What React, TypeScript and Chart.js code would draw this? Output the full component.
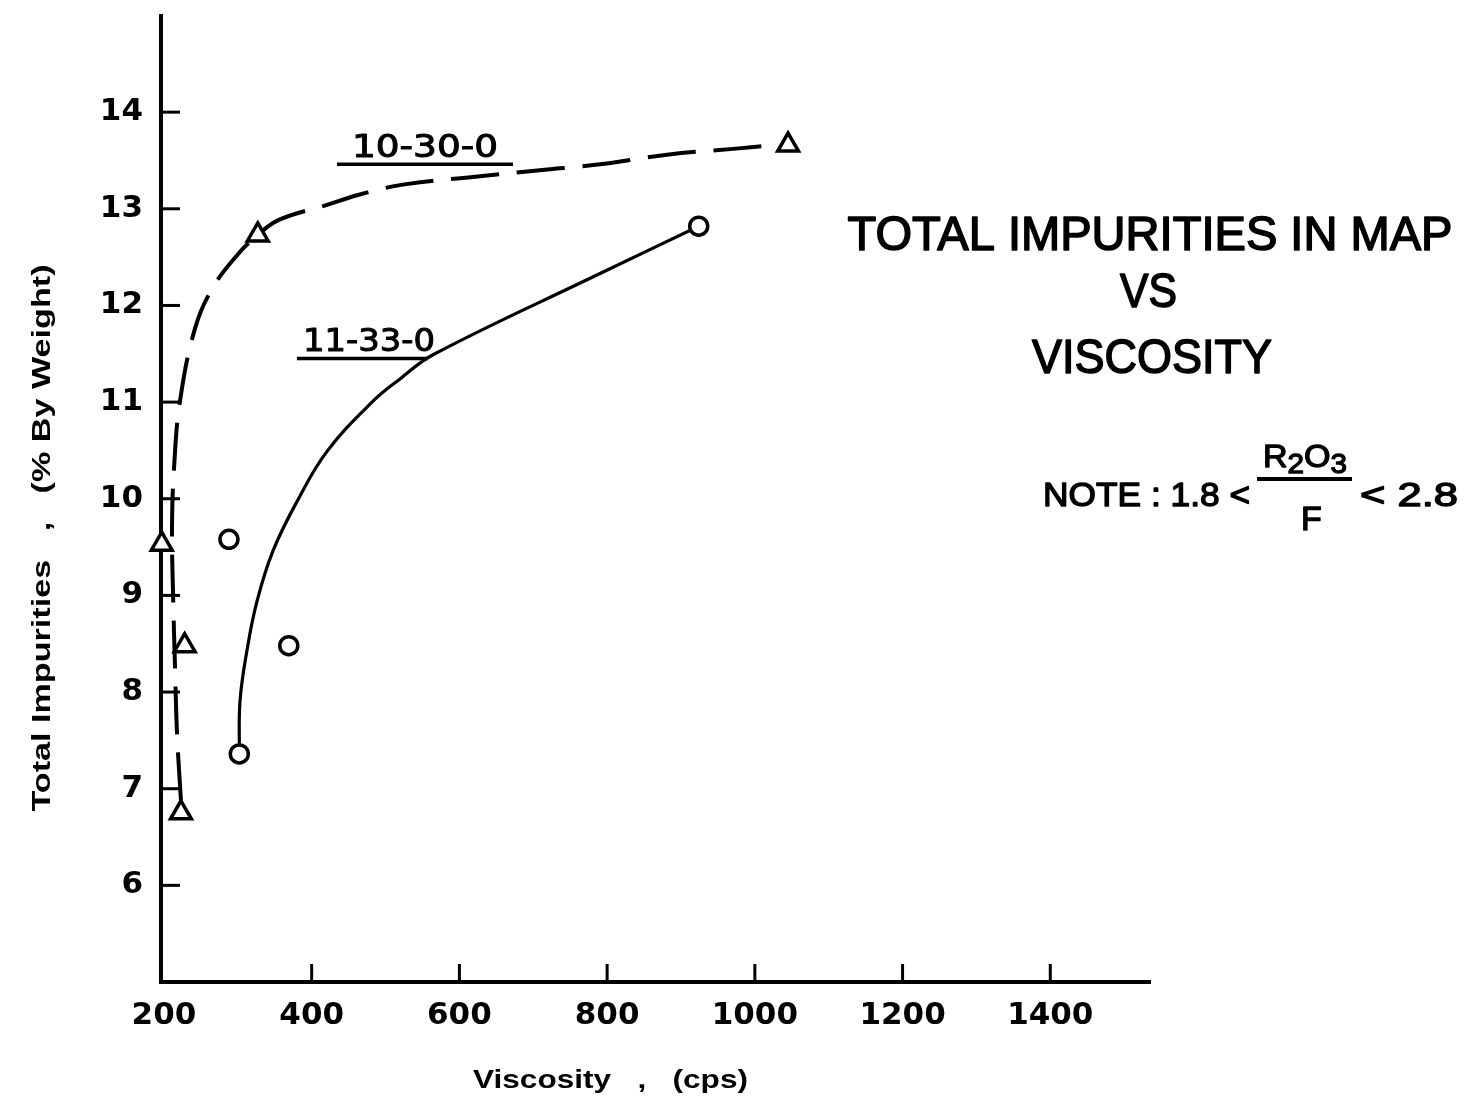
import React, { useEffect, useRef } from 'react';
import { Chart, registerables } from 'chart.js';

Chart.register(...registerables);

// ---- data ----
// measured points, formulation 10-30-0 (triangles)
const viscosity1030 = [223, 228, 197, 327, 1045];
const impurity1030 = [6.75, 8.48, 9.53, 12.73, 13.66];
// measured points, formulation 11-33-0 (circles)
const viscosity1133 = [302, 369, 288, 924];
const impurity1133 = [7.36, 8.48, 9.58, 12.82];
// hand-drawn fitted curve for 10-30-0 (dashed)
const curve1030X = [223, 217.7, 215, 212.2, 210.9, 213.6, 221.7, 242, 265, 299, 327, 357, 420.8, 461.4, 523.6, 618.4, 709, 790.4, 881, 970.4, 1027];
const curve1030Y = [6.88, 7.57, 8.25, 9.05, 9.7, 10.31, 11.01, 11.76, 12.17, 12.52, 12.73, 12.89, 13.04, 13.14, 13.25, 13.33, 13.4, 13.46, 13.56, 13.62, 13.66];
// hand-drawn fitted curve for 11-33-0 (solid)
const curve1133X = [302, 303, 312.4, 326, 347.6, 380, 420.8, 483, 519.6, 564.3, 790.4, 924];
const curve1133Y = [7.36, 7.91, 8.43, 8.94, 9.46, 9.97, 10.49, 11.01, 11.24, 11.49, 12.33, 12.82];
// axes
const xTickValues = [200, 400, 600, 800, 1000, 1200, 1400];
const yTickValues = [6, 7, 8, 9, 10, 11, 12, 13, 14];
const xMin = 196;
const xMax = 1535;
const yMin = 5;
const yMax = 15;
// texts
const curveNames = ['10-30-0', '11-33-0'];
const titleLines = ['TOTAL IMPURITIES IN MAP', 'VS', 'VISCOSITY'];
const xTitle = 'Viscosity   ,   (cps)';
const yTitle = 'Total Impurities   ,   (% By Weight)';

const pts = (xs: number[], ys: number[]) => xs.map((x, i) => ({ x, y: ys[i] }));

function fitText(
  ctx: CanvasRenderingContext2D,
  text: string,
  cx: number,
  baseY: number,
  width: number | null,
  font: string,
  rot = 0,
  stroke = 0
) {
  ctx.save();
  ctx.font = font;
  ctx.textAlign = 'center';
  ctx.textBaseline = 'alphabetic';
  ctx.translate(cx, baseY);
  if (rot) ctx.rotate(rot);
  if (width) {
    const w = ctx.measureText(text).width;
    ctx.scale(width / w, 1);
  }
  ctx.fillText(text, 0, 0);
  if (stroke) {
    ctx.lineWidth = stroke;
    ctx.lineJoin = 'round';
    ctx.strokeText(text, 0, 0);
  }
  ctx.restore();
}

const decor = {
  id: 'decor',
  afterDraw(chart: any) {
    const ctx: CanvasRenderingContext2D = chart.ctx;
    const xs = chart.scales.x;
    const ys = chart.scales.y;
    const ca = chart.chartArea;
    ctx.save();
    ctx.strokeStyle = '#000';
    ctx.fillStyle = '#000';
    ctx.lineCap = 'butt';

    // inward tick marks
    ctx.lineWidth = 3;
    yTickValues.forEach((v) => {
      const y = ys.getPixelForValue(v);
      ctx.beginPath();
      ctx.moveTo(ca.left, y);
      ctx.lineTo(ca.left + 19, y);
      ctx.stroke();
    });
    xTickValues.forEach((v) => {
      if (v <= 200) return;
      const x = xs.getPixelForValue(v);
      ctx.beginPath();
      ctx.moveTo(x, ca.bottom);
      ctx.lineTo(x, ca.bottom - 18);
      ctx.stroke();
    });

    // curve labels with underline
    const labelFont = '32px "DejaVu Sans"';
    const l1x = xs.getPixelForValue(553.4);
    const l1y = ys.getPixelForValue(13.66);
    fitText(ctx, curveNames[0], l1x, l1y + 12, 146, labelFont, 0, 1);
    ctx.lineWidth = 3.5;
    ctx.beginPath();
    ctx.moveTo(xs.getPixelForValue(434.3), ys.getPixelForValue(13.46));
    ctx.lineTo(xs.getPixelForValue(672.6), ys.getPixelForValue(13.46));
    ctx.stroke();

    const l2x = xs.getPixelForValue(477.6);
    const l2y = ys.getPixelForValue(11.65);
    fitText(ctx, curveNames[1], l2x, l2y + 12, 132, labelFont, 0, 1);
    ctx.lineWidth = 3.5;
    ctx.beginPath();
    ctx.moveTo(xs.getPixelForValue(380), ys.getPixelForValue(11.45));
    ctx.lineTo(xs.getPixelForValue(557.5), ys.getPixelForValue(11.45));
    ctx.stroke();

    // title block
    const tFont = '49px "Liberation Sans"';
    fitText(ctx, titleLines[0], 1150, 250, 605, tFont, 0, 1.6);
    fitText(ctx, titleLines[1], 1148.5, 307, 57, tFont, 0, 1.6);
    fitText(ctx, titleLines[2], 1152, 373, 240, tFont, 0, 1.6);

    // note with fraction
    const nFont = '34px "Liberation Sans"';
    fitText(ctx, 'NOTE : 1.8 <', 1146.5, 506, 207, nFont, 0, 1.4);
    fitText(ctx, '< 2.8', 1409, 506, 98, nFont, 0, 1.4);
    ctx.fillRect(1257, 477, 95, 4);
    fitText(ctx, 'F', 1311.5, 530, null, nFont, 0, 1.4);
    // R2O3 numerator with subscripts
    const pieces: [string, boolean][] = [['R', false], ['2', true], ['O', false], ['3', true]];
    const mainF = '31px "Liberation Sans"';
    const subF = '27px "Liberation Sans"';
    let total = 0;
    const widths = pieces.map(([t, sub]) => {
      ctx.font = sub ? subF : mainF;
      const w = ctx.measureText(t).width;
      total += w;
      return w;
    });
    const k = 84 / total;
    ctx.save();
    ctx.translate(1263, 0);
    ctx.scale(k, 1);
    let cx = 0;
    ctx.textAlign = 'left';
    ctx.textBaseline = 'alphabetic';
    ctx.lineWidth = 1.3;
    ctx.lineJoin = 'round';
    pieces.forEach(([t, sub], i) => {
      ctx.font = sub ? subF : mainF;
      ctx.fillText(t, cx, sub ? 473 : 467);
      ctx.strokeText(t, cx, sub ? 473 : 467);
      cx += widths[i];
    });
    ctx.restore();

    // axis titles
    const aFont = 'bold 26px "Liberation Sans"';
    fitText(ctx, xTitle, 610.5, 1088, 275, aFont);
    fitText(ctx, yTitle, 50, 538, 547, aFont, -Math.PI / 2);

    ctx.restore();
  },
};

export default function App() {
  const ref = useRef<HTMLCanvasElement>(null);
  useEffect(() => {
    const canvas = ref.current;
    if (!canvas) return;
    const tickFont = { family: 'DejaVu Sans', size: 31, weight: 'bold' as const };
    const chart = new Chart(canvas, {
      type: 'scatter',
      data: {
        datasets: [
          {
            label: '10-30-0',
            data: pts(viscosity1030, impurity1030),
            pointStyle: 'triangle',
            pointRadius: 12,
            pointBorderWidth: 3.5,
            borderColor: '#000',
            backgroundColor: '#fff',
            showLine: false,
            clip: false,
            order: 0,
          },
          {
            label: '11-33-0',
            data: pts(viscosity1133, impurity1133),
            pointStyle: 'circle',
            pointRadius: 9,
            pointBorderWidth: 3.5,
            borderColor: '#000',
            backgroundColor: '#fff',
            showLine: false,
            clip: false,
            order: 1,
          },
          {
            label: '10-30-0 curve',
            data: pts(curve1030X, curve1030Y),
            showLine: true,
            pointRadius: 0,
            borderColor: '#000',
            borderWidth: 4,
            borderDash: [48, 18],
            tension: 0.4,
            fill: false,
            clip: false,
            order: 2,
          },
          {
            label: '11-33-0 curve',
            data: pts(curve1133X, curve1133Y),
            showLine: true,
            pointRadius: 0,
            borderColor: '#000',
            borderWidth: 3.2,
            tension: 0.4,
            fill: false,
            clip: false,
            order: 3,
          },
        ],
      },
      options: {
        responsive: false,
        maintainAspectRatio: false,
        animation: false,
        devicePixelRatio: 1,
        layout: { padding: { top: 13, right: 323, left: 0, bottom: 0 } },
        plugins: {
          legend: { display: false },
          tooltip: { enabled: false },
          title: { display: false },
        },
        scales: {
          x: {
            type: 'linear',
            min: xMin,
            max: xMax,
            afterBuildTicks: (s: any) => {
              s.ticks = xTickValues.map((v) => ({ value: v }));
            },
            afterFit: (s: any) => {
              s.height = 122;
              s.paddingLeft = 0;
              s.paddingRight = 0;
            },
            grid: { display: true, drawOnChartArea: false, drawTicks: false, color: 'rgba(0,0,0,0)' },
            border: { display: true, color: '#000', width: 4 },
            ticks: {
              color: '#000',
              font: tickFont,
              padding: 15,
              maxRotation: 0,
              autoSkip: false,
              callback: (v: any) => String(v),
            },
          },
          y: {
            type: 'linear',
            min: yMin,
            max: yMax,
            afterBuildTicks: (s: any) => {
              s.ticks = yTickValues.map((v) => ({ value: v }));
            },
            afterFit: (s: any) => {
              s.width = 161;
              s.paddingTop = 0;
              s.paddingBottom = 0;
            },
            grid: { display: true, drawOnChartArea: false, drawTicks: false, color: 'rgba(0,0,0,0)' },
            border: { display: true, color: '#000', width: 4 },
            ticks: { color: '#000', font: tickFont, padding: 18, autoSkip: false, callback: (v: any) => String(v) },
          },
        },
      },
      plugins: [decor],
    } as any);
    return () => chart.destroy();
  }, []);
  return (
    <div style={{ position: 'fixed', left: 0, top: 0, width: 1473, height: 1104, background: '#fff' }}>
      <canvas ref={ref} width={1473} height={1104} style={{ display: 'block', width: 1473, height: 1104 }} />
    </div>
  );
}
